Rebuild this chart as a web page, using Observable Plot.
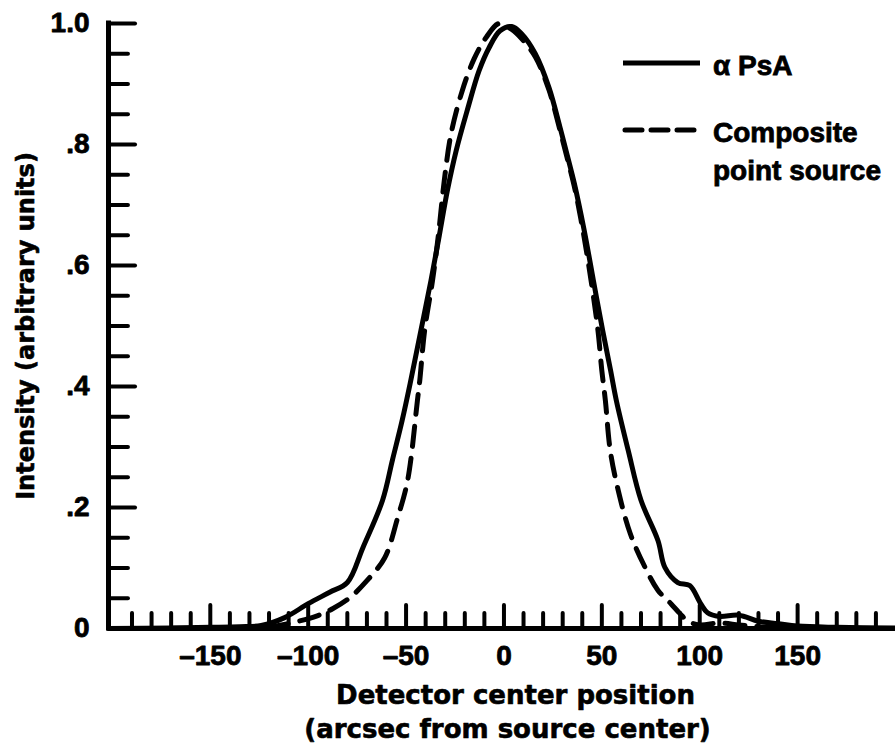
<!DOCTYPE html>
<html><head><meta charset="utf-8">
<script src="https://cdn.jsdelivr.net/npm/d3@7"></script>
<script src="https://cdn.jsdelivr.net/npm/@observablehq/plot@0.6"></script>
<style>body{margin:0;background:#fff}</style>
</head><body><div id="chart"></div>
<script>
// α PsA (solid)
const alphaX = [-202, -170, -150, -135, -124, -112, -100, -89, -80, -72, -62, -57, -52, -47.6, -42.4, -37.3, -33, -28.9, -24.4, -18.8, -12.7, -7.6, -2, 4, 9, 16, 23, 28.5, 32.5, 36, 41, 45.7, 50.4, 54.5, 57.4, 63.5, 70, 78.7, 82.2, 88.8, 94.9, 100.5, 104, 110, 120, 130, 140, 150, 170, 200];
const alphaY = [0, 0.001, 0.002, 0.003, 0.005, 0.018, 0.041, 0.06, 0.076, 0.134, 0.212, 0.278, 0.344, 0.41, 0.493, 0.575, 0.65, 0.724, 0.79, 0.856, 0.922, 0.96, 0.988, 0.995, 0.983, 0.95, 0.894, 0.83, 0.78, 0.735, 0.658, 0.575, 0.493, 0.426, 0.377, 0.294, 0.212, 0.145, 0.101, 0.076, 0.071, 0.041, 0.026, 0.02, 0.022, 0.012, 0.008, 0.004, 0.002, 0.001];
// Composite point source (dashed)
const compX = [-202, -140, -119, -107.6, -95.4, -87.3, -78.7, -70, -60.9, -54.3, -49.2, -44.2, -43, -40.5, -36.5, -33.5, -30.5, -27, -21.3, -15.2, -9.1, -2.5, 4, 9, 16, 23, 28.5, 32.5, 36, 40.5, 44.5, 48, 50, 51.8, 54.3, 58.4, 64.5, 72.1, 78.7, 85.3, 89.8, 94, 100, 110, 120, 130, 150, 200];
const compY = [0, 0.001, 0.003, 0.01, 0.021, 0.033, 0.051, 0.079, 0.117, 0.183, 0.245, 0.377, 0.41, 0.493, 0.575, 0.65, 0.74, 0.818, 0.889, 0.942, 0.977, 1.0, 0.99, 0.975, 0.945, 0.89, 0.825, 0.775, 0.73, 0.655, 0.575, 0.493, 0.426, 0.377, 0.294, 0.228, 0.157, 0.101, 0.063, 0.041, 0.025, 0.012, 0.006, 0.009, 0.006, 0.003, 0.001, 0];

const xDomain = [-202, 200];
const yDomain = [0, 1];
const xTickMinor = [-190,-180,-170,-160,-140,-130,-120,-110,-90,-80,-70,-60,-40,-30,-20,-10,10,20,30,40,60,70,80,90,110,120,130,140,160,170,180,190];
const xTickMajor = [-150,-100,-50,0,50,100,150];
const xLabelVals = [-150,-100,-50,0,50,100,150];
const xLabelText = ["–150","–100","–50","0","50","100","150"];
const yTickMinor = [0.05,0.1,0.15,0.25,0.3,0.35,0.45,0.5,0.55,0.65,0.7,0.75,0.85,0.9,0.95];
const yTickMajor = [0.2,0.4,0.6,0.8,1.0];
const yLabelVals = [0,0.2,0.4,0.6,0.8,1.0];
const yLabelText = ["0",".2",".4",".6",".8","1.0"];
const xTitle = ["Detector center position", "(arcsec from source center)"];
const yTitle = "Intensity (arbitrary units)";
const seriesNames = ["α PsA", "Composite", "point source"];

const alpha = alphaX.map((x, i) => ({x, y: alphaY[i]}));
const comp = compX.map((x, i) => ({x, y: compY[i]}));

const tickFont = "Liberation Sans, Arial, Helvetica, sans-serif";
const titleFont = "DejaVu Sans, Verdana, sans-serif";

const plot = Plot.plot({
  width: 895,
  height: 754,
  marginLeft: 108,
  marginRight: 0,
  marginTop: 23,
  marginBottom: 126,
  style: {background: "#fff", color: "#000"},
  x: {domain: xDomain, axis: null},
  y: {domain: yDomain, axis: null},
  marks: [
    Plot.ruleY([0], {strokeWidth: 5, stroke: "#000"}),
    Plot.ruleX([xDomain[0]], {y1: 0, y2: 1, strokeWidth: 5, stroke: "#000", strokeLinecap: "square"}),
    Plot.ruleX(xTickMinor, {x: d => d, y1: 0, y2: 0.025, strokeWidth: 4, stroke: "#000", strokeLinecap: "round"}),
    Plot.ruleX(xTickMajor, {x: d => d, y1: 0, y2: 0.038, strokeWidth: 4, stroke: "#000", strokeLinecap: "round"}),
    Plot.ruleY(yTickMinor, {y: d => d, x1: xDomain[0], x2: xDomain[0] + 10.2, strokeWidth: 4, stroke: "#000", strokeLinecap: "round"}),
    Plot.ruleY(yTickMajor, {y: d => d, x1: xDomain[0], x2: xDomain[0] + 13.8, strokeWidth: 4, stroke: "#000", strokeLinecap: "round"}),
    Plot.line(alpha, {x: "x", y: "y", stroke: "#000", strokeWidth: 5, curve: "catmull-rom", strokeLinejoin: "round"}),
    Plot.line(comp, {x: "x", y: "y", stroke: "#000", strokeWidth: 5, curve: "catmull-rom", strokeDasharray: "20,12", strokeLinecap: "round"}),
    Plot.text(xLabelVals, {x: d => d, y: 0, text: (d, i) => xLabelText[i], dy: 28, lineAnchor: "middle", fontSize: 28, fontWeight: "bold", fontFamily: tickFont, fill: "#000", stroke: "#000", strokeWidth: 0.8}),
    Plot.text(yLabelVals, {x: xDomain[0], y: d => d, text: (d, i) => yLabelText[i], dx: -19, textAnchor: "end", lineAnchor: "middle", fontSize: 28, fontWeight: "bold", fontFamily: tickFont, fill: "#000", stroke: "#000", strokeWidth: 0.8}),
    Plot.text([xTitle[0]], {frameAnchor: "bottom", dx: 13.5, dy: 66.7, text: d => d, textAnchor: "middle", lineAnchor: "middle", fontSize: 26, fontWeight: "bold", fontFamily: titleFont, fill: "#000", stroke: "#000", strokeWidth: 0.6}),
    Plot.text([xTitle[1]], {frameAnchor: "bottom", dx: 5.5, dy: 100.7, text: d => d, textAnchor: "middle", lineAnchor: "middle", fontSize: 26, fontWeight: "bold", fontFamily: titleFont, fill: "#000", stroke: "#000", strokeWidth: 0.6}),
    Plot.text([yTitle], {frameAnchor: "left", dx: -82, rotate: -90, text: d => d, textAnchor: "middle", lineAnchor: "middle", fontSize: 24, fontWeight: "bold", fontFamily: titleFont, fill: "#000", stroke: "#000", strokeWidth: 0.6})
  ]
});

// legend inside the plot area (upper right)
const svg = d3.select(plot);
const lg = svg.append("g").attr("fill", "#000").attr("stroke", "#000").attr("stroke-width", 0.8).attr("text-anchor", "start").attr("font-family", tickFont).attr("font-weight", "bold").attr("font-size", 28);
lg.append("line").attr("x1", 623).attr("x2", 700).attr("y1", 63).attr("y2", 63).attr("stroke", "#000").attr("stroke-width", 5);
lg.append("text").attr("x", 713).attr("y", 75).text(seriesNames[0]);
lg.append("line").attr("x1", 625).attr("x2", 700).attr("y1", 130).attr("y2", 130).attr("stroke", "#000").attr("stroke-width", 5).attr("stroke-dasharray", "17,9").attr("stroke-linecap", "round");
lg.append("text").attr("x", 713).attr("y", 142).text(seriesNames[1]);
lg.append("text").attr("x", 713).attr("y", 180).text(seriesNames[2]);

document.getElementById("chart").appendChild(plot);
</script>
</body></html>
